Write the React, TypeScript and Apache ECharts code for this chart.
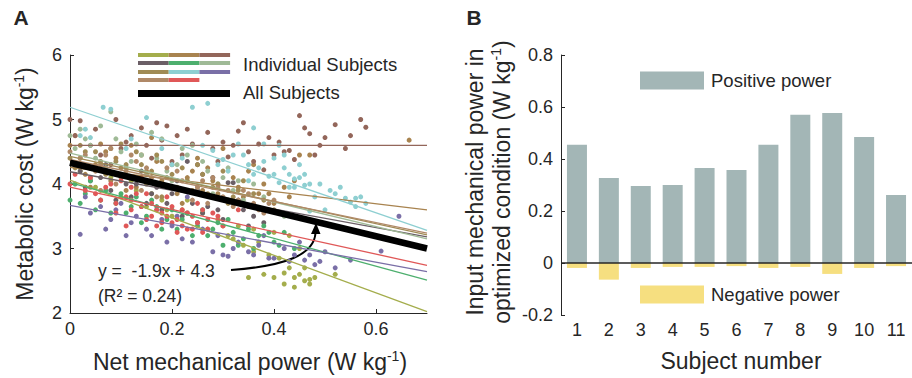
import React, { useEffect, useRef } from 'react';
import * as echarts from 'echarts';

const FONT = '"Liberation Sans", Arial, Helvetica, sans-serif';
const INK = '#262626';

// ---------- Panel A data ----------
const subjectColors = ['#a4ad4c', '#a8834f', '#93665a', '#6b5f66', '#4daf6e', '#9fba96', '#a08b55', '#8ecfd1', '#7a6fa7', '#b08968', '#e05858'];
// regression line values at x = 0 and x = 0.7 for each subject
const fitStart = [4.06, 4.26, 4.6, 4.19, 4.02, 4.48, 4.43, 5.19, 3.67, 4.38, 3.95];
const fitEnd = [2.02, 3.6, 4.6, 3.18, 2.51, 3.15, 3.21, 3.28, 2.64, 3.24, 2.74];
const fitX = [0, 0.7];
const allSubjectsFit = [4.33, 3.0];

const s1Points = [[0.02,4.2],[0.05,3.95],[0.08,4.1],[0.1,3.8],[0.13,3.9],[0.15,3.65],[0.18,3.75],[0.2,3.5],[0.22,3.6],[0.25,3.4],[0.27,3.3],[0.29,3.45],[0.31,3.2],[0.33,3.35],[0.34,3.05],[0.36,3.3],[0.37,3.1],[0.38,2.6],[0.39,2.9],[0.4,2.55],[0.41,2.85],[0.42,2.45],[0.43,2.7],[0.44,2.55],[0.45,2.6],[0.46,2.5],[0.47,2.45],[0.48,2.55],[0.52,2.6],[0.43,3.2],[0.45,3.0],[0.35,2.55],
  [0.06,4.3],[0.12,4.05],[0.16,3.85],[0.19,3.6],[0.23,3.75],[0.26,3.55],[0.3,3.35],[0.32,3.15],[0.36,2.95],[0.4,3.25],[0.42,2.62],[0.44,2.4],[0.46,2.7],[0.47,2.52]];
const s2Points = [[0.0,4.6],[0.02,4.4],[0.03,4.15],[0.05,4.3],[0.07,4.5],[0.08,4.05],[0.1,4.25],[0.12,4.6],[0.13,3.95],[0.15,4.2],[0.16,4.72],[0.18,4.05],[0.2,4.3],[0.21,3.85],[0.23,4.1],[0.25,4.4],[0.26,3.9],[0.28,4.05],[0.3,4.55],[0.31,3.75],[0.33,3.95],[0.35,4.2],[0.37,3.85],[0.38,4.0],[0.4,3.7],[0.42,3.95],[0.44,4.05],[0.47,4.45],[0.665,4.68],[0.29,3.85],[0.22,3.7],
  [0.01,4.75],[0.04,3.95],[0.06,4.62],[0.09,4.4],[0.11,3.9],[0.14,4.45],[0.17,4.35],[0.19,3.95],[0.24,4.2],[0.27,4.25],[0.32,4.1],[0.34,3.8],[0.36,4.3],[0.39,3.85],[0.43,3.8],[0.45,4.45]];
const s3Points = [[0.0,5.0],[0.02,4.98],[0.04,4.6],[0.06,4.45],[0.09,5.0],[0.1,4.55],[0.12,4.75],[0.14,4.87],[0.16,4.4],[0.18,4.68],[0.19,4.9],[0.2,4.35],[0.22,4.45],[0.24,4.62],[0.25,4.3],[0.27,4.8],[0.28,4.55],[0.3,4.65],[0.31,4.42],[0.33,4.82],[0.35,4.5],[0.36,4.35],[0.39,4.72],[0.4,4.45],[0.42,4.5],[0.43,4.52],[0.45,5.06],[0.46,4.87],[0.47,4.78],[0.48,4.45],[0.5,4.72],[0.52,4.92],[0.54,4.55],[0.57,5.0],[0.58,4.88],[0.38,4.22],[0.26,4.15],
  [0.01,4.75],[0.05,4.85],[0.08,4.3],[0.11,4.65],[0.15,4.6],[0.17,4.95],[0.21,4.75],[0.23,4.85],[0.29,4.35],[0.32,4.6],[0.34,4.95],[0.37,4.62],[0.41,4.65],[0.44,4.38],[0.49,4.6],[0.55,4.75]];
const s4Points = [[0.02,4.2],[0.04,4.05],[0.06,4.1],[0.08,3.9],[0.1,4.15],[0.12,3.8],[0.13,4.0],[0.15,3.7],[0.17,3.95],[0.18,3.6],[0.2,3.85],[0.22,3.5],[0.23,4.35],[0.24,3.7],[0.26,3.55],[0.28,3.8],[0.3,3.45],[0.31,4.02],[0.32,4.02],[0.34,3.6],[0.36,3.5],[0.38,3.4],[0.28,4.1],
  [0.03,3.95],[0.07,4.3],[0.09,3.75],[0.11,4.0],[0.14,4.2],[0.16,3.85],[0.19,3.7],[0.21,4.05],[0.25,3.9],[0.27,3.65],[0.29,3.6],[0.33,3.75],[0.35,3.35]];
const s5Points = [[0.0,3.75],[0.01,4.0],[0.03,3.85],[0.05,3.6],[0.07,3.9],[0.09,3.7],[0.11,3.55],[0.13,3.8],[0.15,3.5],[0.17,3.65],[0.19,3.45],[0.21,3.3],[0.23,3.55],[0.25,3.35],[0.27,3.2],[0.29,3.4],[0.3,3.05],[0.32,3.25],[0.34,3.15],[0.35,3.3],[0.36,3.0],[0.37,3.2],[0.38,3.35],[0.4,3.1],[0.42,3.25],[0.44,3.0],[0.33,3.05],[0.26,3.6],
  [0.02,3.7],[0.04,4.05],[0.06,3.75],[0.08,3.55],[0.1,3.85],[0.12,3.65],[0.14,3.4],[0.16,3.75],[0.18,3.3],[0.2,3.6],[0.22,3.45],[0.24,3.2],[0.28,3.3],[0.31,3.45],[0.39,3.25],[0.41,3.05]];
const s6Points = [[0.0,4.75],[0.01,4.55],[0.03,4.7],[0.05,4.4],[0.06,4.9],[0.07,4.25],[0.08,5.12],[0.1,4.5],[0.12,4.35],[0.13,4.62],[0.15,4.15],[0.17,4.4],[0.18,4.7],[0.2,4.05],[0.21,4.3],[0.23,4.45],[0.25,3.95],[0.27,4.2],[0.28,3.85],[0.3,4.1],[0.32,3.9],[0.34,3.75],[0.36,4.0],[0.24,4.6],[0.42,3.5],
  [0.02,4.85],[0.04,4.6],[0.09,4.7],[0.11,4.25],[0.14,4.45],[0.16,4.8],[0.19,4.2],[0.22,4.55],[0.26,4.35],[0.29,4.0],[0.31,4.25],[0.33,4.05],[0.38,3.8]];
const s7Points = [[0.0,4.4],[0.02,4.6],[0.04,4.25],[0.05,4.5],[0.07,4.15],[0.09,4.35],[0.1,4.62],[0.12,4.1],[0.14,4.3],[0.15,4.0],[0.17,4.45],[0.19,4.1],[0.21,3.95],[0.22,4.25],[0.24,3.9],[0.26,4.15],[0.27,3.85],[0.29,4.0],[0.31,3.7],[0.33,3.9],[0.35,3.65],[0.36,3.85],[0.4,3.6],[0.18,3.8],
  [0.01,4.25],[0.03,4.5],[0.06,4.35],[0.08,4.55],[0.11,4.3],[0.13,4.5],[0.16,4.2],[0.18,4.35],[0.2,4.15],[0.23,4.05],[0.25,4.3],[0.28,3.95],[0.3,4.2],[0.32,3.8],[0.34,4.05],[0.38,3.75]];
const s8Points = [[0.02,4.75],[0.04,4.72],[0.065,5.19],[0.08,5.16],[0.11,4.55],[0.15,5.03],[0.2,4.3],[0.24,5.19],[0.27,5.25],[0.28,4.52],[0.3,4.38],[0.31,4.2],[0.33,4.62],[0.34,4.45],[0.35,4.05],[0.36,4.87],[0.37,4.25],[0.38,4.62],[0.39,4.12],[0.4,4.4],[0.41,4.02],[0.42,4.25],[0.43,4.15],[0.44,3.95],[0.45,4.1],[0.46,3.98],[0.47,4.0],[0.48,3.8],[0.5,3.6],[0.52,3.85],[0.55,3.72],[0.56,3.78],[0.57,3.8],[0.58,3.7],[0.47,3.58],[0.41,4.6],[0.44,4.08],
  [0.03,4.85],[0.12,4.7],[0.18,4.55],[0.22,4.4],[0.26,4.6],[0.29,4.3],[0.32,4.45],[0.35,4.3],[0.36,4.15],[0.38,4.35],[0.4,4.15],[0.42,4.45],[0.43,3.95],[0.45,4.3],[0.46,4.15],[0.49,4.0],[0.51,3.9],[0.53,3.95],[0.54,3.78],[0.56,3.65]];
const s9Points = [[0.02,3.22],[0.04,3.55],[0.06,3.65],[0.08,3.45],[0.1,3.7],[0.11,3.2],[0.13,3.5],[0.15,3.3],[0.17,3.6],[0.2,3.35],[0.22,3.15],[0.25,3.4],[0.28,2.95],[0.3,2.9],[0.31,2.88],[0.33,3.1],[0.36,2.9],[0.38,3.2],[0.4,2.85],[0.42,3.0],[0.44,2.9],[0.46,2.82],[0.48,2.75],[0.5,2.95],[0.52,2.7],[0.55,2.82],[0.61,2.96],[0.645,3.5],[0.23,3.8],
  [0.03,3.8],[0.07,3.3],[0.09,3.6],[0.12,3.4],[0.14,3.65],[0.16,3.2],[0.18,3.45],[0.19,3.1],[0.21,3.5],[0.24,3.1],[0.26,3.3],[0.29,3.2],[0.32,3.0],[0.35,2.95],[0.37,3.05],[0.39,2.85],[0.43,2.8],[0.45,3.1],[0.47,2.9],[0.49,2.8]];
const s10Points = [[0.0,4.5],[0.01,4.3],[0.03,4.45],[0.04,4.1],[0.06,4.3],[0.08,4.55],[0.09,4.0],[0.11,4.2],[0.13,4.35],[0.14,3.9],[0.16,4.1],[0.17,3.8],[0.19,4.25],[0.2,3.95],[0.22,4.05],[0.24,3.75],[0.25,3.95],[0.27,3.7],[0.28,4.1],[0.3,3.8],[0.32,3.65],[0.34,3.9],[0.36,3.7],[0.38,3.55],[0.4,3.75],[0.12,3.75],[0.06,3.9],
  [0.02,4.4],[0.05,4.2],[0.07,4.45],[0.1,4.1],[0.12,4.45],[0.15,4.25],[0.18,4.0],[0.21,4.2],[0.23,3.9],[0.26,4.05],[0.29,3.95],[0.31,3.9],[0.33,3.75],[0.35,3.85],[0.37,3.6],[0.39,3.7]];
const s11Points = [[0.0,4.0],[0.02,4.3],[0.05,3.85],[0.07,3.95],[0.09,3.7],[0.1,4.05],[0.12,3.6],[0.13,3.85],[0.15,3.45],[0.16,3.7],[0.17,3.35],[0.18,3.55],[0.19,3.8],[0.2,3.4],[0.21,3.25],[0.22,3.6],[0.23,3.3],[0.24,3.5],[0.25,3.7],[0.26,3.25],[0.27,3.45],[0.28,3.55],[0.3,3.35],[0.33,3.6],[0.14,4.1],[0.11,3.35],
  [0.01,4.15],[0.03,3.9],[0.04,4.1],[0.06,3.75],[0.08,4.0],[0.09,3.55],[0.11,3.8],[0.12,3.95],[0.14,3.65],[0.15,3.85],[0.16,3.5],[0.17,3.6],[0.18,3.4],[0.19,3.5],[0.2,3.65],[0.21,3.45],[0.22,3.35],[0.23,3.55],[0.24,3.3],[0.25,3.4],[0.26,3.6],[0.27,3.3],[0.29,3.5]];
const subjectPoints = [s1Points, s2Points, s3Points, s4Points, s5Points, s6Points, s7Points, s8Points, s9Points, s10Points, s11Points];

const xTicksA = { min: 0, max: 0.7, interval: 0.2 };
const yTicksA = { min: 2, max: 6, interval: 1 };

// ---------- Panel B data ----------
const subjectNumbers = ['1', '2', '3', '4', '5', '6', '7', '8', '9', '10', '11'];
const positivePower = [0.455, 0.327, 0.296, 0.3, 0.365, 0.358, 0.455, 0.57, 0.577, 0.485, 0.262];
const negativePower = [-0.019, -0.064, -0.019, -0.015, -0.015, -0.012, -0.019, -0.015, -0.042, -0.019, -0.012];
const yTicksB = { min: -0.2, max: 0.8, interval: 0.2 };

const POS_COLOR = '#a3b6b6';
const NEG_COLOR = '#f6df80';

function rotText(x: number, y: number, main: string, tail: string, size: number) {
  return {
    type: 'text',
    x,
    y,
    rotation: Math.PI / 2,
    silent: true,
    style: {
      text: `{n|${main}}{s|-1}{n|${tail}}`,
      align: 'center',
      verticalAlign: 'middle',
      textAlign: 'center',
      textVerticalAlign: 'middle',
      fill: INK,
      font: `${size}px ${FONT}`,
      rich: {
        n: { fontSize: size, fontFamily: FONT, fill: INK, lineHeight: size + 2, verticalAlign: 'bottom' },
        s: { fontSize: Math.round(size * 0.62), fontFamily: FONT, fill: INK, lineHeight: size * 0.7, verticalAlign: 'top' },
      },
    },
  };
}

function hText(x: number, y: number, main: string, tail: string, size: number) {
  const t: any = rotText(x, y, main, tail, size);
  t.rotation = 0;
  return t;
}

function plainText(x: number, y: number, text: string, size: number, align = 'left', weight = 'normal') {
  return {
    type: 'text',
    x,
    y,
    silent: true,
    style: {
      text,
      align,
      verticalAlign: 'middle',
      textAlign: align,
      textVerticalAlign: 'middle',
      fill: INK,
      font: `${weight} ${size}px ${FONT}`,
    },
  };
}

export default function App() {
  const ref = useRef<HTMLDivElement>(null);

  useEffect(() => {
    if (!ref.current) return;
    const chart = echarts.init(ref.current, null, { renderer: 'svg' });

    const legendRows = [[0, 1, 2], [3, 4, 5], [6, 7, 8], [9, 10]];
    const legendRowY = [55, 63, 72, 80];
    const legendGraphics: any[] = [];
    legendRows.forEach((row, r) => {
      row.forEach((ci, c) => {
        legendGraphics.push({
          type: 'rect',
          silent: true,
          shape: { x: 138 + c * 30.7, y: legendRowY[r] - 2, width: 30.7, height: 4 },
          style: { fill: subjectColors[ci] },
        });
      });
    });
    legendGraphics.push({
      type: 'rect',
      silent: true,
      shape: { x: 138, y: 90, width: 92, height: 7 },
      style: { fill: '#000' },
    });

    const scatterSeries = subjectPoints.map((pts, i) => ({
      type: 'scatter',
      name: 'subject' + (i + 1),
      xAxisIndex: 0,
      yAxisIndex: 0,
      data: pts,
      symbolSize: 5,
      itemStyle: { color: subjectColors[i], opacity: 1 },
      silent: true,
      z: 2,
    }));

    const fitSeries = subjectColors.map((col, i) => ({
      type: 'line',
      name: 'fit' + (i + 1),
      xAxisIndex: 0,
      yAxisIndex: 0,
      data: [[fitX[0], fitStart[i]], [fitX[1], fitEnd[i]]],
      symbol: 'none',
      lineStyle: { color: col, width: 1.3 },
      silent: true,
      z: 3,
    }));

    const option: any = {
      animation: false,
      backgroundColor: '#fff',
      textStyle: { fontFamily: FONT },
      grid: [
        { left: 70, top: 55, width: 357, height: 258 },
        { left: 561, top: 55, width: 357, height: 260 },
      ],
      xAxis: [
        {
          type: 'value',
          gridIndex: 0,
          ...xTicksA,
          axisLine: { show: true, lineStyle: { color: INK, width: 1 } },
          axisTick: { show: true, inside: true, length: 4, lineStyle: { color: INK } },
          axisLabel: { fontSize: 18, color: INK, fontFamily: FONT, margin: 7, showMaxLabel: false },
          splitLine: { show: false },
        },
        {
          type: 'category',
          gridIndex: 1,
          data: subjectNumbers,
          position: 'bottom',
          axisLine: { show: false, onZero: false },
          axisTick: { show: false },
          axisLabel: { fontSize: 18, color: INK, fontFamily: FONT, margin: 6, interval: 0 },
          splitLine: { show: false },
        },
      ],
      yAxis: [
        {
          type: 'value',
          gridIndex: 0,
          ...yTicksA,
          axisLine: { show: true, lineStyle: { color: INK, width: 1 } },
          axisTick: { show: true, inside: true, length: 4, lineStyle: { color: INK } },
          axisLabel: { fontSize: 18, color: INK, fontFamily: FONT, margin: 8 },
          splitLine: { show: false },
        },
        {
          type: 'value',
          gridIndex: 1,
          ...yTicksB,
          axisLine: { show: true, lineStyle: { color: INK, width: 1 } },
          axisTick: { show: true, inside: true, length: 4, lineStyle: { color: INK } },
          axisLabel: { fontSize: 18, color: INK, fontFamily: FONT, margin: 8 },
          splitLine: { show: false },
        },
      ],
      legend: [
        {
          data: ['Positive power'],
          left: 640,
          top: 71,
          padding: 0,
          itemWidth: 64,
          itemHeight: 18,
          icon: 'rect',
          selectedMode: false,
          textStyle: { fontSize: 18.5, color: INK, fontFamily: FONT, padding: [0, 0, 0, 2] },
        },
        {
          data: ['Negative power'],
          left: 640,
          top: 285,
          padding: 0,
          itemWidth: 64,
          itemHeight: 18,
          icon: 'rect',
          selectedMode: false,
          textStyle: { fontSize: 18.5, color: INK, fontFamily: FONT, padding: [0, 0, 0, 2] },
        },
      ],
      series: [
        ...scatterSeries,
        ...fitSeries,
        {
          type: 'line',
          name: 'All Subjects',
          xAxisIndex: 0,
          yAxisIndex: 0,
          data: [[fitX[0], allSubjectsFit[0]], [fitX[1], allSubjectsFit[1]]],
          symbol: 'none',
          lineStyle: { color: '#000', width: 6.5 },
          silent: true,
          z: 4,
        },
        {
          type: 'bar',
          name: 'Positive power',
          xAxisIndex: 1,
          yAxisIndex: 1,
          data: positivePower,
          barWidth: 20,
          barGap: '-100%',
          itemStyle: { color: POS_COLOR },
          silent: true,
          markLine: {
            silent: true,
            symbol: 'none',
            label: { show: false },
            lineStyle: { color: INK, width: 1.5, type: 'solid' },
            data: [{ yAxis: 0 }],
            z: 5,
          },
        },
        {
          type: 'bar',
          name: 'Negative power',
          xAxisIndex: 1,
          yAxisIndex: 1,
          data: negativePower,
          barWidth: 20,
          barGap: '-100%',
          itemStyle: { color: NEG_COLOR },
          silent: true,
        },
      ],
      graphic: [
        plainText(21, 17, 'A', 21, 'center', 'bold'),
        plainText(474, 17, 'B', 21, 'center', 'bold'),
        ...legendGraphics,
        plainText(243, 64, 'Individual Subjects', 18.5),
        plainText(243, 92, 'All Subjects', 18.5),
        rotText(24, 184, 'Metabolic cost (W kg', ')', 23),
        hText(250, 361, 'Net mechanical power (W kg', ')', 23),
        plainText(741, 361, 'Subject number', 23, 'center'),
        {
          type: 'text',
          x: 475,
          y: 182,
          rotation: Math.PI / 2,
          silent: true,
          style: {
            text: 'Input mechanical power in',
            align: 'center',
            verticalAlign: 'middle',
            textAlign: 'center',
            textVerticalAlign: 'middle',
            fill: INK,
            font: `23px ${FONT}`,
          },
        },
        rotText(501, 182, 'optimized condition (W kg', ')', 23),
        plainText(98, 271, 'y =  -1.9x + 4.3', 17.5),
        plainText(98, 296, '(R\u00B2 = 0.24)', 17.5),
        {
          type: 'bezierCurve',
          silent: true,
          shape: { x1: 231, y1: 270, cpx1: 285, cpy1: 266, cpx2: 314, cpy2: 255, x2: 315.5, y2: 233 },
          style: { stroke: '#000', lineWidth: 2, fill: 'none' },
        },
        {
          type: 'polygon',
          silent: true,
          shape: { points: [[316, 223], [311, 234], [320.5, 234]] },
          style: { fill: '#000' },
        },
      ],
    };

    chart.setOption(option);
    return () => chart.dispose();
  }, []);

  return (
    <div
      ref={ref}
      style={{ position: 'fixed', left: 0, top: 0, width: 912, height: 378, background: '#fff' }}
    />
  );
}
